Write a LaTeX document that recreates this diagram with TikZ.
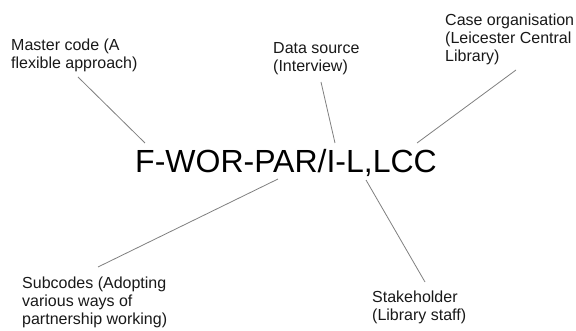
\documentclass[tikz,border=0pt]{standalone}
\usepackage{fontspec}
\setmainfont{Liberation Sans}
\begin{document}
\begin{tikzpicture}[x=1pt,y=-1pt,
  codetext/.style={font=\fontsize{32}{38}\selectfont, inner sep=0pt, anchor=base west, text=black},
  label/.style={font=\fontsize{16}{18}\selectfont, inner sep=0pt, anchor=base west, align=left, text=black!90},
  leader/.style={draw=black!50, line width=0.8pt}]
  \useasboundingbox[fill=white] (0,0) rectangle (576,331);

  % central code string
  \node[codetext] (code) at (135,173) {F-WOR-PAR/I-L,LCC};

  % explanatory labels (placed by the baseline of their last line)
  \node[label] (master) at (11,69) {Master code (A\\flexible approach)};
  \node[label] (source) at (273,72) {Data source\\(Interview)};
  \node[label] (case)   at (445,62) {Case organisation\\(Leicester Central\\Library)};
  \node[label] (sub)    at (22,324) {Subcodes (Adopting\\various ways of\\partnership working)};
  \node[label] (stake)  at (372,320) {Stakeholder\\(Library staff)};

  % leader line end points
  \coordinate (masterEnd) at (78,77);
  \coordinate (masterTip) at (145,143);
  \coordinate (sourceEnd) at (321,82);
  \coordinate (sourceTip) at (335,143);
  \coordinate (caseEnd)   at (516,70);
  \coordinate (caseTip)   at (417,143);
  \coordinate (subEnd)    at (98,267);
  \coordinate (subTip)    at (278,179);
  \coordinate (stakeEnd)  at (425,282);
  \coordinate (stakeTip)  at (366,180);

  \draw[leader] (masterEnd) -- (masterTip);
  \draw[leader] (sourceEnd) -- (sourceTip);
  \draw[leader] (caseEnd) -- (caseTip);
  \draw[leader] (subEnd) -- (subTip);
  \draw[leader] (stakeEnd) -- (stakeTip);
\end{tikzpicture}
\end{document}
